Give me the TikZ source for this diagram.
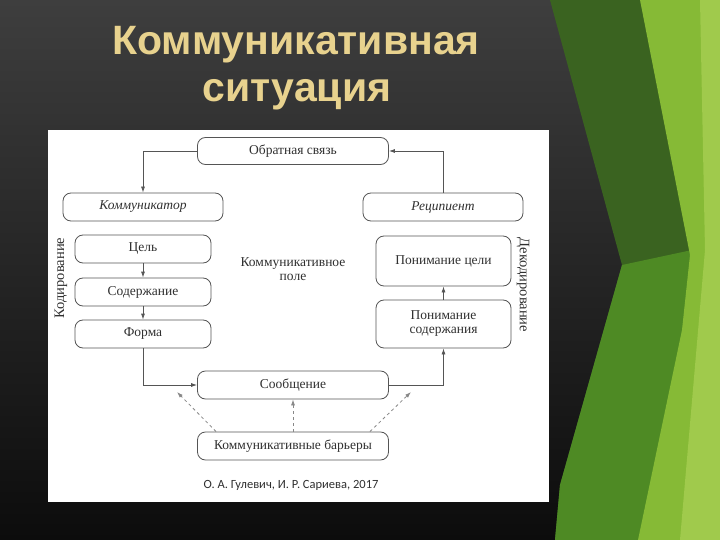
\documentclass[tikz,border=0pt]{standalone}
\usepackage{fontspec}
\setmainfont{Liberation Serif}
\setsansfont{Liberation Sans}
\newfontfamily\citefont{Carlito}
\usetikzlibrary{arrows.meta,calc}
\definecolor{ttl}{HTML}{E8D28E}
\definecolor{ln}{HTML}{555555}
\definecolor{tx}{HTML}{303030}
\definecolor{gdark}{HTML}{3A6320}
\definecolor{gmid}{HTML}{4E8A24}
\definecolor{glight}{HTML}{86BA36}
\definecolor{ghigh}{HTML}{A0CA4C}
\tikzset{
  rbox/.style={draw=ln, line width=0.8pt, rounded corners=8pt, fill=white, text=tx,
    font=\fontsize{13.5}{15}\selectfont, align=center, inner sep=2pt},
  conn/.style={draw=ln, line width=0.8pt, -{Latex[length=6pt,width=4pt]}},
  dconn/.style={draw=ln!70, line width=0.8pt, dashed, -{Latex[length=6pt,width=4pt]}},
  ttlfont/.style={font=\sffamily\bfseries\fontsize{41}{50}\selectfont, text=ttl},
}
\begin{document}
\begin{tikzpicture}[x=1pt,y=-1pt]
\useasboundingbox (0,0) rectangle (720,540);
% background
\shade[top color={rgb,255:red,62;green,62;blue,62}, bottom color={rgb,255:red,12;green,12;blue,12}] (0,0) rectangle (720,540);
% green shapes
\fill[gdark] (550,0) -- (645,0) -- (692,250) -- (650,540) -- (555,540) -- (560,485) -- (622,265) -- cycle;
\fill[gmid] (622,265) -- (692,250) -- (660,540) -- (555,540) -- (560,485) -- cycle;
\fill[glight] (640,0) -- (720,0) -- (720,540) -- (638,540) -- (682,330) -- (690,255) -- cycle;
\fill[ghigh] (700,0) -- (720,0) -- (720,540) -- (680,540) -- (705,250) -- cycle;
% title
\node[ttlfont] (t1) at (296,45) {Коммуникативная};
\node[ttlfont] (t2) at (297,95) {ситуация};
% panel
\fill[white] (48,130) rectangle (549,502);
% nodes
\node[rbox, minimum width=191pt, minimum height=27pt] (fb) at (293,151) {Обратная связь};
\node[rbox, minimum width=160pt, minimum height=28pt, font=\fontsize{13.5}{15}\selectfont\itshape] (kom) at (143,207) {Коммуникатор};
\node[rbox, minimum width=160pt, minimum height=28pt, font=\fontsize{13.5}{15}\selectfont\itshape] (rec) at (443,207) {Реципиент};
\node[rbox, minimum width=136pt, minimum height=28pt] (cel) at (143,249) {Цель};
\node[rbox, minimum width=136pt, minimum height=28pt] (sod) at (143,292) {Содержание};
\node[rbox, minimum width=136pt, minimum height=28pt] (form) at (143,334) {Форма};
\node[rbox, minimum width=135pt, minimum height=50pt] (pc) at (443.5,261) {Понимание цели};
\node[rbox, minimum width=135pt, minimum height=48pt, font=\fontsize{13.5}{14}\selectfont] (ps) at (443.5,324) {Понимание\\содержания};
\node[rbox, minimum width=191pt, minimum height=28pt] (msg) at (293,385) {Сообщение};
\node[rbox, minimum width=191pt, minimum height=28pt] (bar) at (293,446) {Коммуникативные барьеры};
\node[text=tx, font=\fontsize{13.5}{14}\selectfont, align=center] (pole) at (293,269) {Коммуникативное\\поле};
\node[text=tx, font=\fontsize{14.5}{16}\selectfont, rotate=90] (kod) at (61,278) {Кодирование};
\node[text=tx, font=\fontsize{14.5}{16}\selectfont, rotate=-90] (dek) at (523,285) {Декодирование};
\node[text=tx, font=\citefont\fontsize{12.5}{14}\selectfont] (cite) at (291,485) {О. А. Гулевич, И. Р. Сариева, 2017};
% connectors
\draw[conn] (fb.west) -| (kom.north);
\draw[conn] (rec.north) |- (fb.east);
\draw[conn] (cel) -- (sod);
\draw[conn] (sod) -- (form);
\draw[conn] (form.south) |- (msg.west);
\draw[conn] (msg.east) -| (ps.south);
\draw[conn] (ps) -- (pc);
\coordinate (d1) at (177,392);
\coordinate (d3) at (411,392);
\draw[dconn] (bar.north west) ++(19,0) coordinate (b1) -- (d1);
\draw[dconn] (bar.north) -- (msg.south);
\draw[dconn] (bar.north east) ++(-19,0) coordinate (b3) -- (d3);
\end{tikzpicture}
\end{document}
